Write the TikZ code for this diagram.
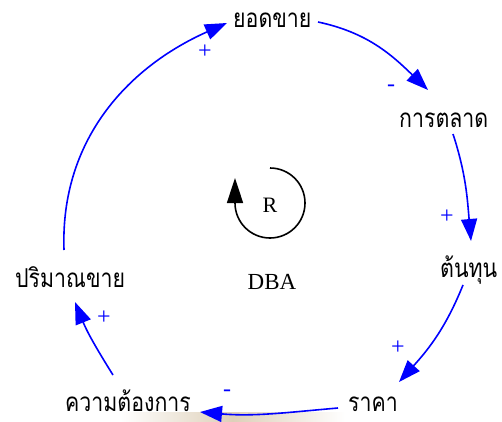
\documentclass[tikz,border=0pt]{standalone}
\usepackage{fontspec}
\setmainfont{Liberation Serif}
\newfontfamily\thaifont[Script=Thai,FakeStretch=0.82]{Loma}
\usetikzlibrary{arrows.meta}
\begin{document}
\begin{tikzpicture}[x=1pt,y=1pt,
  var/.style={font=\thaifont\fontsize{26}{28}\selectfont, inner sep=0pt, anchor=base west},
  link/.style={draw=blue, line width=1.6pt, -{Triangle[length=22pt,width=16pt]}},
  sgn/.style={text=blue, font=\fontsize{24}{24}\selectfont, inner sep=0pt}]
\useasboundingbox (0,0) rectangle (502,421);
\shade[left color=white,right color=white,middle color={rgb,255:red,222;green,208;blue,185}] (120,0) rectangle (345,9);
% variables
\node[var] (yod) at (233,393) {ยอดขาย};
\node[var] (kan) at (399,294) {การตลาด};
\node[var] (ton) at (440,144) {ต้นทุน};
\node[var] (pri) at (15,134) {ปริมาณขาย};
\node[var] (kwam) at (65,10) {ความต้องการ};
\node[var] (raka) at (348,10) {ราคา};
% loop label
\node[font=\fontsize{22}{22}\selectfont, inner sep=0pt] (R) at (270,216) {R};
\node[font=\fontsize{23}{23}\selectfont, inner sep=0pt] (dba) at (272,139) {DBA};
\draw[line width=1.6pt, -{Triangle[length=25pt,width=16pt]}] (270,253) arc[start angle=90,end angle=-180,radius=35] -- ++(0,25);
% links
\draw[link] ([shift={(85,6)}]yod.base west) to[out=-12,in=136] ([shift={(29,37)}]kan.base west);
\draw[link] ([shift={(54,-7)}]kan.base west) to[out=-72,in=95] ([shift={(31,36)}]ton.base west);
\draw[link] ([shift={(23,-8)}]ton.base west) to[out=-112,in=48] ([shift={(51,29)}]raka.base west);
\draw[link] ([shift={(-10,3)}]raka.base west) to[out=185,in=-5] ([shift={(135,-1)}]kwam.base west);
\draw[link] ([shift={(48,36)}]kwam.base west) to[out=122,in=-68] ([shift={(60,-15)}]pri.base west);
\draw[link] ([shift={(49,37)}]pri.base west) to[out=92,in=204] ([shift={(-6,5)}]yod.base west);
% signs
\node[sgn] (s1) at (391,333) {-};
\node[sgn] (s2) at (447,204) {+};
\node[sgn] (s3) at (398,73) {+};
\node[sgn] (s4) at (227,28) {-};
\node[sgn] (s5) at (104,103) {+};
\node[sgn] (s6) at (205,369) {+};
\end{tikzpicture}
\end{document}
